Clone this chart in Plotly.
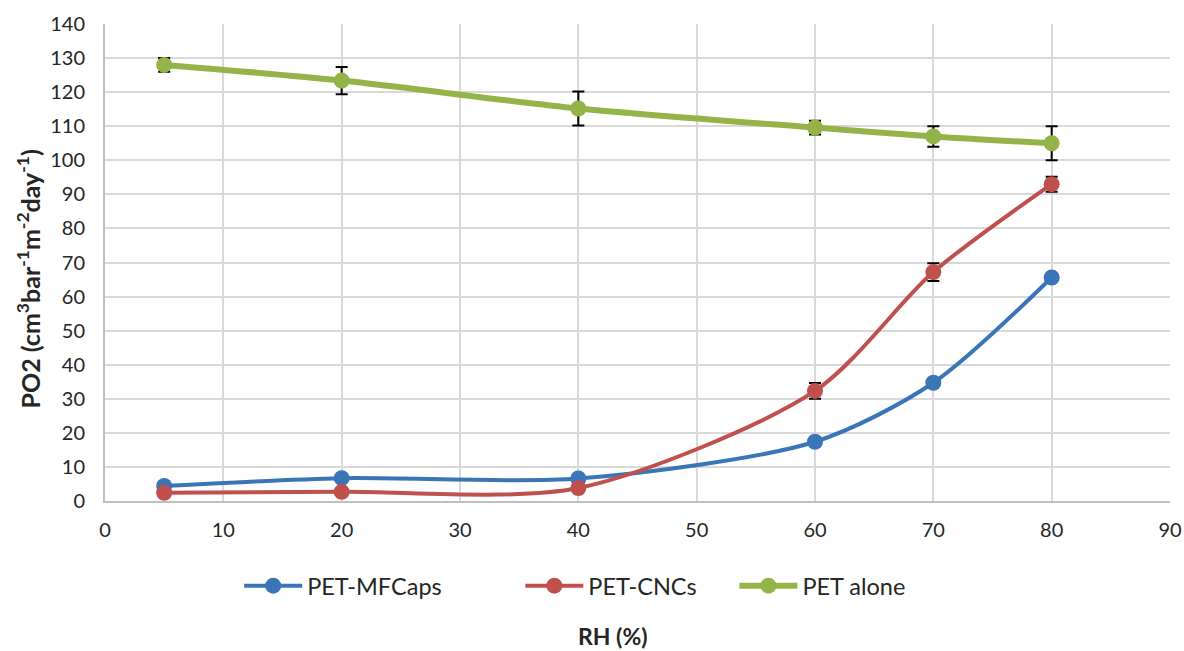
import plotly.graph_objects as go

rh = [5, 20, 40, 60, 70, 80]
mfcaps = [4.4, 6.7, 6.6, 17.4, 34.7, 65.6]
cncs = [2.4, 2.7, 3.8, 32.3, 67.2, 93.0]
cncs_err = [0.0, 0.0, 0.0, 2.3, 2.6, 2.2]
pet = [128.0, 123.4, 115.2, 109.6, 107.0, 105.0]
pet_err = [2.0, 4.0, 5.0, 2.0, 3.0, 5.0]

names = ["PET-MFCaps", "PET-CNCs", "PET alone"]
colors = ["#3a75b8", "#c0504d", "#94b44a"]
widths = [4, 4, 6]
legend_ids = ["legend", "legend2", "legend3"]
legend_x = [0.126, 0.390, 0.591]

fig = go.Figure()
series = [(mfcaps, None), (cncs, cncs_err), (pet, pet_err)]
for (vals, err), name, col, w, lid in zip(series, names, colors, widths, legend_ids):
    fig.add_trace(go.Scatter(
        x=rh, y=vals, name=name, mode="lines+markers", legend=lid,
        line=dict(color=col, width=w, shape="spline", smoothing=0.8),
        marker=dict(color=col, size=16),
        error_y=(dict(type="data", array=err, visible=True, color="black",
                      thickness=2, width=6) if err is not None else None),
    ))

font = "Lato, Carlito, Calibri, sans-serif"
leg_common = dict(orientation="h", y=-0.178, yanchor="middle", xanchor="left",
                  font=dict(size=23.5, color="#262626"), itemwidth=58,
                  bgcolor="rgba(0,0,0,0)")
layout_legends = {}
for lid, lx in zip(legend_ids, legend_x):
    layout_legends[lid] = dict(leg_common, x=lx)

fig.update_layout(
    width=1184, height=651,
    margin=dict(l=105, r=14, t=24, b=150, autoexpand=False),
    paper_bgcolor="white", plot_bgcolor="white",
    font=dict(family=font, size=20, color="#262626"),
    showlegend=True,
    **layout_legends,
    xaxis=dict(range=[0, 90], tick0=0, dtick=10, showgrid=True, gridcolor="#d9d9d9",
               gridwidth=2, showline=True, linecolor="#bfbfbf", linewidth=2,
               ticks="", zeroline=False, tickfont=dict(size=20), automargin=False,
               ticklabelstandoff=10),
    yaxis=dict(range=[0, 140], tick0=0, dtick=10, showgrid=True, gridcolor="#d9d9d9",
               gridwidth=2, showline=True, linecolor="#bfbfbf", linewidth=2,
               ticks="", zeroline=False, tickfont=dict(size=20), automargin=False,
               ticklabelstandoff=14),
    annotations=[
        dict(text="<b>RH (%)</b>", x=0.477, y=-0.283, xref="paper", yref="paper",
             xanchor="center", yanchor="middle", showarrow=False,
             font=dict(size=23, color="#262626")),
        dict(text="<b>PO2 (cm<sup>3</sup>bar<sup>-1</sup>m<sup>-2</sup>day<sup>-1</sup>)</b>",
             x=-0.072, y=0.465, xref="paper", yref="paper", textangle=-90,
             xanchor="center", yanchor="middle", showarrow=False,
             font=dict(size=25, color="#262626")),
    ],
)

fig.write_html("out.html")
